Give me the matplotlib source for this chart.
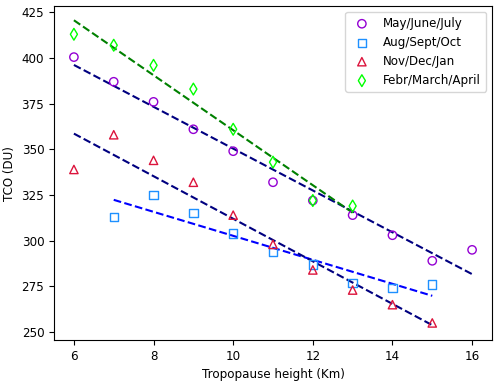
import numpy as np
import matplotlib
matplotlib.use("Agg")
import matplotlib.pyplot as plt

plt.rcParams['font.size'] = 8.6

x_mjj = [6, 7, 8, 9, 10, 11, 12, 13, 14, 15, 16]
y_mjj = [400.5, 387, 376, 361, 349, 332, 322, 314, 303, 289, 295]
x_aso = [7, 8, 9, 10, 11, 12, 13, 14, 15]
y_aso = [313, 325, 315, 304, 294, 287, 277, 274, 276]
x_ndj = [6, 7, 8, 9, 10, 11, 12, 13, 14, 15]
y_ndj = [339, 358, 344, 332, 314, 298, 284, 273, 265, 255]
x_fma = [6, 7, 8, 9, 10, 11, 12, 13]
y_fma = [413, 407, 396, 383, 361, 343, 322, 319]

fig, ax = plt.subplots(figsize=(5.0, 3.83), dpi=100)
fig.subplots_adjust(left=0.108, right=0.984, top=0.984, bottom=0.112)

ms = 36
ax.scatter(x_mjj, y_mjj, marker='o', facecolors='none', edgecolors='darkviolet', s=ms, label='May/June/July', zorder=3)
ax.scatter(x_aso, y_aso, marker='s', facecolors='none', edgecolors='dodgerblue', s=ms, label='Aug/Sept/Oct', zorder=3)
ax.scatter(x_ndj, y_ndj, marker='^', facecolors='none', edgecolors='crimson', s=ms, label='Nov/Dec/Jan', zorder=3)
ax.scatter(x_fma, y_fma, marker='d', facecolors='none', edgecolors='lime', s=ms, label='Febr/March/April', zorder=3)

for xs, ys, c in [(x_mjj, y_mjj, 'navy'), (x_aso, y_aso, 'blue'), (x_ndj, y_ndj, 'navy'), (x_fma, y_fma, 'green')]:
    p = np.polyfit(xs, ys, 1)
    xx = np.array([min(xs), max(xs)])
    ax.plot(xx, np.polyval(p, xx), '--', color=c, lw=1.5, zorder=2)

ax.set_xlim(5.5, 16.5)
ax.set_ylim(245.6, 428.4)
ax.set_xticks([6, 8, 10, 12, 14, 16])
ax.set_yticks([250, 275, 300, 325, 350, 375, 400, 425])
ax.set_xlabel('Tropopause height (Km)')
ax.set_ylabel('TCO (DU)')
ax.legend(loc='upper right')
fig.savefig('out.png')
